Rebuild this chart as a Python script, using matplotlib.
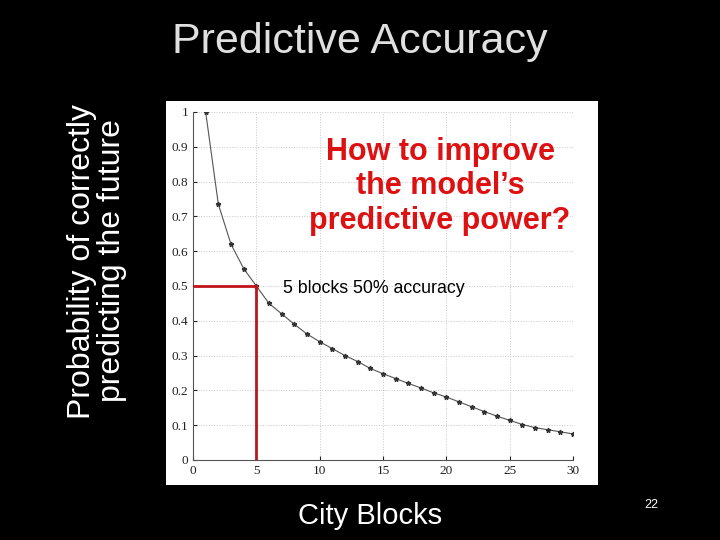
import matplotlib.pyplot as plt
from matplotlib.patches import Rectangle

# city blocks vs probability of correct prediction
blocks = list(range(1, 31))
prob = [1.0, 0.735, 0.62, 0.55, 0.50, 0.45, 0.42, 0.39, 0.362, 0.34,
        0.32, 0.30, 0.283, 0.263, 0.248, 0.234, 0.22, 0.207, 0.193, 0.181,
        0.167, 0.153, 0.139, 0.126, 0.114, 0.102, 0.093, 0.087, 0.081, 0.075]
mark_x = 5
mark_y = 0.5
xticks = [0, 5, 10, 15, 20, 25, 30]
yticks = [0, 0.1, 0.2, 0.3, 0.4, 0.5, 0.6, 0.7, 0.8, 0.9, 1]

fig = plt.figure(figsize=(7.2, 5.4), dpi=100, facecolor='black')

# white panel behind the plot
fig.patches.append(Rectangle((166 / 720, 1 - 485 / 540), 432 / 720, 384 / 540,
                             transform=fig.transFigure, facecolor='white',
                             edgecolor='none', zorder=-1))

ax = fig.add_axes([193 / 720, 1 - 460 / 540, 380 / 720, 348 / 540])
ax.set_facecolor('white')
ax.plot(blocks, prob, color='#555555', lw=0.8, marker='*', ms=3.5,
        markerfacecolor='#333333', markeredgecolor='#333333', zorder=3)
ax.plot([0, mark_x], [mark_y, mark_y], color='#c0141a', lw=2, zorder=4)
ax.plot([mark_x, mark_x], [0, mark_y], color='#c0141a', lw=2, zorder=4)

ax.set_xlim(0, 30)
ax.set_ylim(0, 1)
ax.set_xticks(xticks)
ax.set_yticks(yticks)
ax.set_yticklabels(['0', '0.1', '0.2', '0.3', '0.4', '0.5', '0.6', '0.7', '0.8', '0.9', '1'])
ax.tick_params(labelsize=9.5, length=3, direction='in', colors='#222222')
for lab in ax.get_xticklabels() + ax.get_yticklabels():
    lab.set_family('Liberation Serif')
ax.grid(True, ls=':', color='#c8c8c8', lw=0.7)
ax.spines['top'].set_visible(False)
ax.spines['right'].set_visible(False)
ax.spines['left'].set_color('#555555')
ax.spines['bottom'].set_color('#555555')

ax.text(0.65, 0.787, 'How to improve\nthe model\u2019s\npredictive power?',
        transform=ax.transAxes, ha='center', va='center', color='#dd1111',
        fontsize=22, fontweight='bold', linespacing=1.2, family='Liberation Sans')
ax.text(7.1, 0.494, '5 blocks 50% accuracy', ha='left', va='center',
        fontsize=12.8, color='black', family='Liberation Sans')

fig.text(0.5, 1 - 42 / 540, 'Predictive Accuracy', ha='center', va='center',
         color='#e0e0e0', fontsize=31, family='Liberation Sans')
fig.text(97 / 720, 1 - 261 / 540, 'Probability of correctly\npredicting the future', ha='center',
         va='center', rotation=90, color='white', fontsize=23,
         family='Liberation Sans', linespacing=1.0)
fig.text(370 / 720, 1 - 516 / 540, 'City Blocks', ha='center', va='center',
         color='white', fontsize=21, family='Liberation Sans')
fig.text(651 / 720, 1 - 505 / 540, '22', ha='center', va='center',
         color='white', fontsize=9, family='Liberation Sans')

fig.savefig('out.png', dpi=100, facecolor='black')
